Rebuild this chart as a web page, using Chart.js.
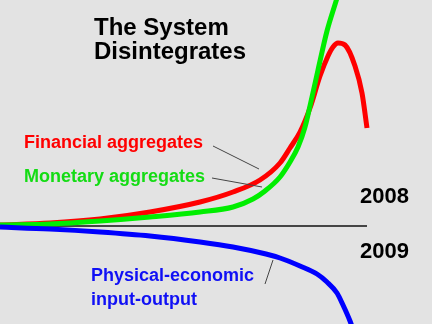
<!DOCTYPE html>
<html>
<head>
<meta charset="utf-8">
<title>The System Disintegrates</title>
<script src="https://cdn.jsdelivr.net/npm/chart.js@4/dist/chart.umd.min.js"></script>
<style>
  html, body { margin: 0; padding: 0; background: #e3e3e3; }
  #wrap { position: relative; width: 432px; height: 324px; }
</style>
</head>
<body>
<div id="wrap"><canvas id="grafico" width="432" height="324"></canvas></div>
<script>
// horizontal positions (0 = left edge, 432 = right edge); values = height above the 2008/2009 line
const financialX = [0, 50, 100, 150, 200, 233, 260, 280, 290, 300, 310, 320, 328, 333, 338, 345, 355, 362, 367];
const financialY = [1, 3, 7, 14, 24, 34, 46, 63, 78, 94, 118, 150, 170, 179, 183, 181, 160, 133, 98];

const monetaryX = [0, 50, 100, 150, 200, 233, 253, 265, 280, 290, 298, 305, 312, 318, 327, 337, 345];
const monetaryY = [1, 2, 5, 9, 14, 19, 27, 35, 49, 64, 79, 99, 129, 156, 195, 228, 256];

const physicalX = [0, 50, 100, 150, 200, 233, 266, 280, 300, 317, 327, 337, 343, 350, 356];
const physicalY = [-1, -3, -6, -10, -16, -21, -28, -32, -40, -48, -56, -67, -79, -95, -112];

// the dividing line between 2008 and 2009
const baseX = [0, 367];
const baseY = [0, 0];

// leader lines from labels to curves [x1, y1, x2, y2]
const financialLeader = [213, 80, 259, 57];
const monetaryLeader = [212, 48, 262, 39];
const physicalLeader = [273, -34, 265, -58];

const titleLines = ['The System', 'Disintegrates'];
const seriesLabels = ['Financial aggregates', 'Monetary aggregates', ['Physical-economic', 'input-output']];
const yearLabels = ['2008', '2009'];

const toPoints = (xs, ys) => xs.map((x, i) => ({ x: x, y: ys[i] }));
const leader = l => [{ x: l[0], y: l[1] }, { x: l[2], y: l[3] }];

const FONT = '"Liberation Sans", Arial, Helvetica, sans-serif';

// draws the title, labels and years
const textPlugin = {
  id: 'textos',
  afterDatasetsDraw(chart) {
    const ctx = chart.ctx;
    ctx.save();
    ctx.textAlign = 'left';
    ctx.textBaseline = 'alphabetic';

    ctx.fillStyle = '#000';
    ctx.font = 'bold 24px ' + FONT;
    ctx.fillText(titleLines[0], 94, 35);
    ctx.fillText(titleLines[1], 94, 59);

    ctx.font = 'bold 18px ' + FONT;
    ctx.fillStyle = '#ff0000';
    ctx.fillText(seriesLabels[0], 24, 148);
    ctx.fillStyle = '#14dc14';
    ctx.fillText(seriesLabels[1], 24, 182);
    ctx.fillStyle = '#1010f5';
    ctx.fillText(seriesLabels[2][0], 91, 281);
    ctx.fillText(seriesLabels[2][1], 91, 305);

    ctx.fillStyle = '#000';
    ctx.font = 'bold 22px ' + FONT;
    ctx.fillText(yearLabels[0], 360, 203);
    ctx.fillText(yearLabels[1], 360, 258);
    ctx.restore();
  }
};

const curve = (label, data, color, order) => ({
  label: label,
  data: data,
  borderColor: color,
  borderWidth: 5,
  pointRadius: 0,
  cubicInterpolationMode: 'monotone',
  order: order
});

const thin = (data, color, width, order) => ({
  data: data,
  borderColor: color,
  borderWidth: width,
  pointRadius: 0,
  tension: 0,
  order: order
});

new Chart(document.getElementById('grafico').getContext('2d'), {
  type: 'line',
  data: {
    datasets: [
      thin(leader(financialLeader), '#444', 1, 0),
      thin(leader(monetaryLeader), '#444', 1, 0),
      thin(leader(physicalLeader), '#444', 1, 0),
      curve('Physical-economic input-output', toPoints(physicalX, physicalY), '#0000ff', 1),
      curve('Monetary aggregates', toPoints(monetaryX, monetaryY), '#00ee00', 2),
      curve('Financial aggregates', toPoints(financialX, financialY), '#ff0000', 3),
      thin(toPoints(baseX, baseY), '#111', 1.5, 4)
    ]
  },
  options: {
    responsive: false,
    animation: false,
    events: [],
    layout: { padding: 0 },
    elements: { line: { capBezierPoints: false } },
    plugins: {
      legend: { display: false },
      tooltip: { enabled: false }
    },
    scales: {
      x: { type: 'linear', min: 0, max: 432, display: false },
      y: { type: 'linear', min: -98, max: 226, display: false }
    }
  },
  plugins: [textPlugin]
});
</script>
</body>
</html>
